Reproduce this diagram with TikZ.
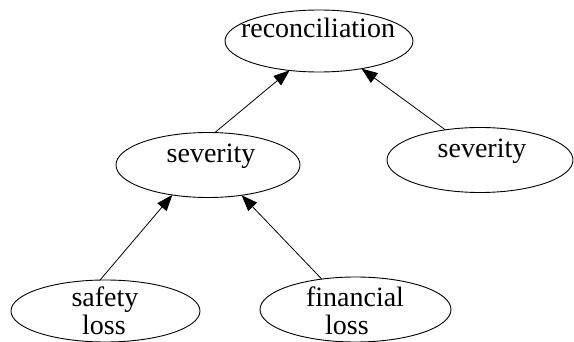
\documentclass[tikz,border=0pt]{standalone}
\usepackage{fontspec}
\setmainfont{Liberation Serif}
\usetikzlibrary{shapes.geometric,arrows.meta}
\begin{document}
\begin{tikzpicture}[x=1pt,y=-1pt,
  bubble/.style={ellipse,draw,line width=0.9pt,inner sep=0pt,outer sep=0pt},
  caption/.style={anchor=base,inner sep=0pt,font=\fontsize{28}{28}\selectfont},
  arr/.style={line width=0.8pt,-{Triangle[length=16pt,width=12pt]}}]
  \useasboundingbox (0,0) rectangle (574,342);
  % ellipses
  \node[bubble,minimum width=188pt,minimum height=62pt] (rec)  at (319,41) {};
  \node[bubble,minimum width=184pt,minimum height=65pt] (sevL) at (208,165) {};
  \node[bubble,minimum width=186pt,minimum height=65pt] (sevR) at (480,160) {};
  \node[bubble,minimum width=189pt,minimum height=62pt] (saf)  at (105.5,311) {};
  \node[bubble,minimum width=191pt,minimum height=65pt] (fin)  at (355.5,309.5) {};
  % labels
  \node[caption] (recT)  at (318,38) {reconciliation};
  \node[caption] (sevLT) at (211,163) {severity};
  \node[caption] (sevRT) at (482,158) {severity};
  \node[caption] (safT1) at (105,307) {safety};
  \node[caption] (safT2) at (104,335) {loss};
  \node[caption] (finT1) at (355,307) {financial};
  \node[caption] (finT2) at (347,335) {loss};
  % connectors
  \draw[arr] (sevL.78) -- (rec.225);
  \draw[arr] (sevR.139) -- (rec.327);
  \draw[arr] (saf.100) -- (sevL.220);
  \draw[arr] (fin.138) -- (sevL.318);
\end{tikzpicture}
\end{document}
